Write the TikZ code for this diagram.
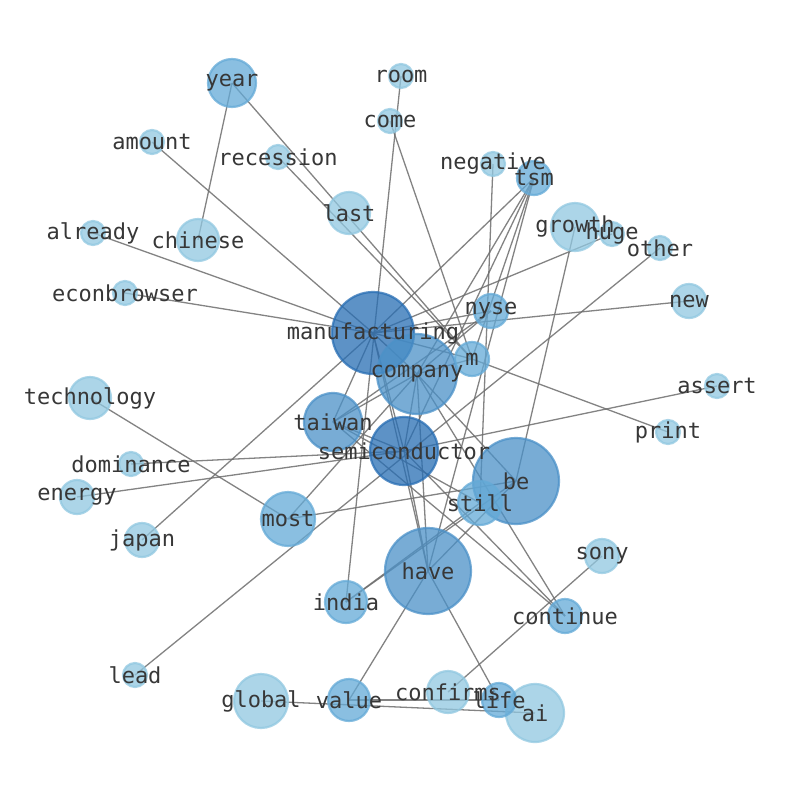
\documentclass[tikz,border=0pt]{standalone}
\usepackage{fontspec}
\newfontfamily\lblfont{DejaVu Sans Mono}
\definecolor{cdark}{RGB}{40,110,180}
\definecolor{cmid}{RGB}{75,145,200}
\definecolor{cthree}{RGB}{100,170,215}
\definecolor{clight}{RGB}{145,200,225}
\definecolor{edgegray}{RGB}{110,110,110}
\definecolor{txtgray}{RGB}{55,55,55}
\pgfdeclarelayer{paper}
\pgfdeclarelayer{edgelayer}
\pgfsetlayers{paper,edgelayer,main}
\begin{document}
\begin{tikzpicture}[x=1pt,y=-1pt,
  nd/.style={circle,inner sep=0pt,minimum size=#1,line width=2.2pt,fill opacity=0.75,draw opacity=0.75},
  ndark/.style={nd=#1,fill=cdark,draw=cdark},
  nmid/.style={nd=#1,fill=cmid,draw=cmid},
  nthree/.style={nd=#1,fill=cthree,draw=cthree},
  nlight/.style={nd=#1,fill=clight,draw=clight},
  lbl/.style={inner sep=0pt,text=txtgray,font=\lblfont\fontsize{22}{22}\selectfont},
  lnk/.style={draw=edgegray,line width=1.3pt,opacity=0.85}]
\begin{pgfonlayer}{paper}
\fill[white] (0,0) rectangle (794,790);
\end{pgfonlayer}
\useasboundingbox (0,0) rectangle (794,790);
% nodes (circles)
\node[ndark=82pt] (manufacturing) at (373,333) {};
\node[nmid=80pt] (company) at (417,374) {};
\node[ndark=68pt] (semiconductor) at (404,451) {};
\node[nmid=86pt] (be) at (516,481) {};
\node[nmid=86pt] (have) at (428,571) {};
\node[nmid=58pt] (taiwan) at (333,422) {};
\node[nthree=54pt] (most) at (288,519) {};
\node[nthree=48pt] (year) at (232,83) {};
\node[nlight=48pt] (growth) at (575,227) {};
\node[nlight=58pt] (ai) at (535,713) {};
\node[nlight=54pt] (global) at (261,701) {};
\node[nlight=42pt] (chinese) at (198,240) {};
\node[nlight=42pt] (last) at (349,213) {};
\node[nlight=42pt] (technology) at (90,398) {};
\node[nthree=42pt] (india) at (346,602) {};
\node[nthree=44pt] (still) at (480,503) {};
\node[nlight=42pt] (confirms) at (448,692) {};
\node[nthree=42pt] (value) at (349,700) {};
\node[nthree=34pt] (nyse) at (491,311) {};
\node[nthree=34pt] (m) at (472,359) {};
\node[nthree=34pt] (tsm) at (534,178) {};
\node[nlight=34pt] (new) at (689,301) {};
\node[nthree=34pt] (continue) at (565,616) {};
\node[nlight=34pt] (sony) at (602,556) {};
\node[nlight=34pt] (japan) at (142,540) {};
\node[nlight=34pt] (energy) at (77,497) {};
\node[nthree=34pt] (life) at (499,700) {};
\node[nlight=24pt] (room) at (401,76) {};
\node[nlight=24pt] (come) at (390,121) {};
\node[nlight=24pt] (amount) at (152,142) {};
\node[nlight=24pt] (recession) at (278,157) {};
\node[nlight=24pt] (negative) at (493,164) {};
\node[nlight=24pt] (huge) at (612,234) {};
\node[nlight=24pt] (other) at (660,248) {};
\node[nlight=24pt] (already) at (93,233) {};
\node[nlight=24pt] (econbrowser) at (125,293) {};
\node[nlight=24pt] (assert) at (717,386) {};
\node[nlight=24pt] (print) at (668,432) {};
\node[nlight=24pt] (dominance) at (131,464) {};
\node[nlight=24pt] (lead) at (135,675) {};
% edges
\begin{pgfonlayer}{edgelayer}
\foreach \a/\b in {manufacturing/econbrowser,manufacturing/already,manufacturing/amount,
  manufacturing/huge,manufacturing/new,manufacturing/japan,manufacturing/m,manufacturing/have,
  manufacturing/taiwan,manufacturing/semiconductor,manufacturing/company,manufacturing/tsm,manufacturing/nyse,
  company/tsm,company/have,company/continue,company/taiwan,company/semiconductor,company/nyse,company/most,company/m,company/be,
  semiconductor/dominance,semiconductor/energy,semiconductor/assert,semiconductor/have,semiconductor/continue,
  semiconductor/taiwan,semiconductor/tsm,
  taiwan/continue,taiwan/still,taiwan/nyse,
  year/chinese,year/m,recession/m,come/m,m/print,tsm/m,tsm/have,
  room/india,negative/still,growth/be,lead/other,technology/most,most/be,
  india/be,india/still,have/be,have/value,have/life,sony/confirms,global/ai,value/life}
  {\draw[lnk] (\a.center) -- (\b.center);}
\end{pgfonlayer}
% labels
\foreach \n in {manufacturing,company,semiconductor,be,have,taiwan,most,year,growth,ai,global,
  chinese,last,technology,india,still,confirms,value,nyse,m,tsm,new,continue,sony,japan,energy,
  life,room,come,amount,recession,negative,huge,other,already,econbrowser,assert,print,dominance,lead}
  {\node[lbl] (l-\n) at (\n.center) {\n};}
\end{tikzpicture}
\end{document}
